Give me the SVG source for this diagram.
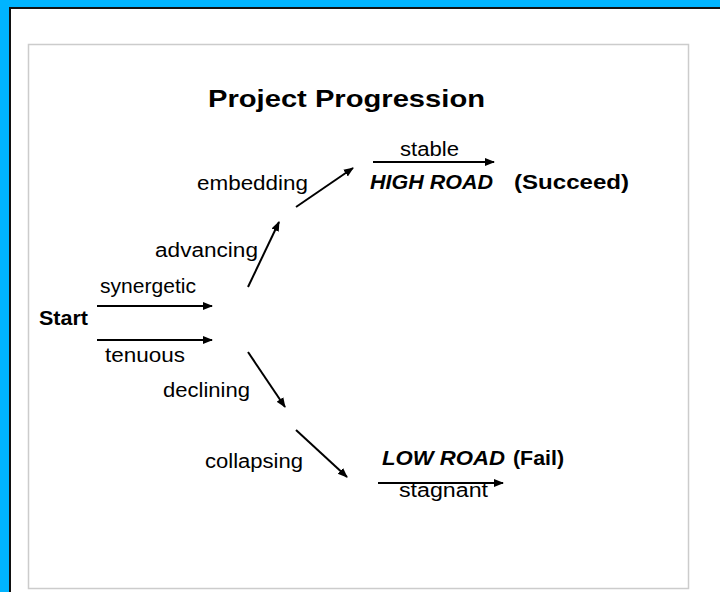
<svg xmlns="http://www.w3.org/2000/svg" width="720" height="592" viewBox="0 0 720 592">
<style>
text{font-family:"Liberation Sans",Arial,sans-serif;fill:#000}
.lbl{font-size:20px}
.b{font-weight:bold}
.bi{font-weight:bold;font-style:italic}
.c line{stroke:#000;stroke-width:2}
</style>
<defs>
<marker id="ah" viewBox="0 0 10 10" refX="9" refY="5" markerWidth="10" markerHeight="10" markerUnits="userSpaceOnUse" orient="auto">
<path d="M0,1 L10,5 L0,9 Z" fill="#000"/>
</marker>
</defs>
<rect x="0" y="0" width="720" height="592" fill="#00B4FF"/>
<rect x="9" y="7" width="711" height="585" fill="#111"/>
<rect x="11" y="9" width="709" height="583" fill="#fff"/>
<rect x="28.5" y="44.5" width="660" height="544" fill="none" stroke="#cccccc" stroke-width="1.5"/>
<g id="title"><text x="208" y="107" class="b" font-size="24" textLength="277" lengthAdjust="spacingAndGlyphs">Project Progression</text></g>
<g id="start"><text x="39" y="325" class="lbl b" textLength="49" lengthAdjust="spacingAndGlyphs">Start</text></g>
<g id="high-road">
<text x="370" y="189" class="lbl bi" textLength="123" lengthAdjust="spacingAndGlyphs">HIGH ROAD</text>
<text x="514" y="189" class="lbl b" textLength="115" lengthAdjust="spacingAndGlyphs">(Succeed)</text>
</g>
<g id="low-road">
<text x="382" y="465" class="lbl bi" textLength="123" lengthAdjust="spacingAndGlyphs">LOW ROAD</text>
<text x="513" y="465" class="lbl b" textLength="51" lengthAdjust="spacingAndGlyphs">(Fail)</text>
</g>
<g id="labels">
<text x="400" y="156" class="lbl" textLength="59" lengthAdjust="spacingAndGlyphs">stable</text>
<text x="197" y="190" class="lbl" textLength="111" lengthAdjust="spacingAndGlyphs">embedding</text>
<text x="155" y="257" class="lbl" textLength="103" lengthAdjust="spacingAndGlyphs">advancing</text>
<text x="100" y="293" class="lbl" textLength="96" lengthAdjust="spacingAndGlyphs">synergetic</text>
<text x="105" y="362" class="lbl" textLength="80" lengthAdjust="spacingAndGlyphs">tenuous</text>
<text x="163" y="397" class="lbl" textLength="87" lengthAdjust="spacingAndGlyphs">declining</text>
<text x="205" y="468" class="lbl" textLength="98" lengthAdjust="spacingAndGlyphs">collapsing</text>
<text x="399" y="497" class="lbl" textLength="89" lengthAdjust="spacingAndGlyphs">stagnant</text>
</g>
<g id="connectors" class="c">
<line x1="97" y1="306" x2="212" y2="306" marker-end="url(#ah)"/>
<line x1="97" y1="340" x2="212" y2="340" marker-end="url(#ah)"/>
<line x1="248" y1="287" x2="279" y2="222" marker-end="url(#ah)"/>
<line x1="296" y1="207" x2="353" y2="168" marker-end="url(#ah)"/>
<line x1="373" y1="162" x2="494" y2="162" marker-end="url(#ah)"/>
<line x1="248" y1="352" x2="285" y2="407" marker-end="url(#ah)"/>
<line x1="296" y1="430" x2="347" y2="477" marker-end="url(#ah)"/>
<line x1="378" y1="483" x2="503" y2="483" marker-end="url(#ah)"/>
</g>
</svg>
